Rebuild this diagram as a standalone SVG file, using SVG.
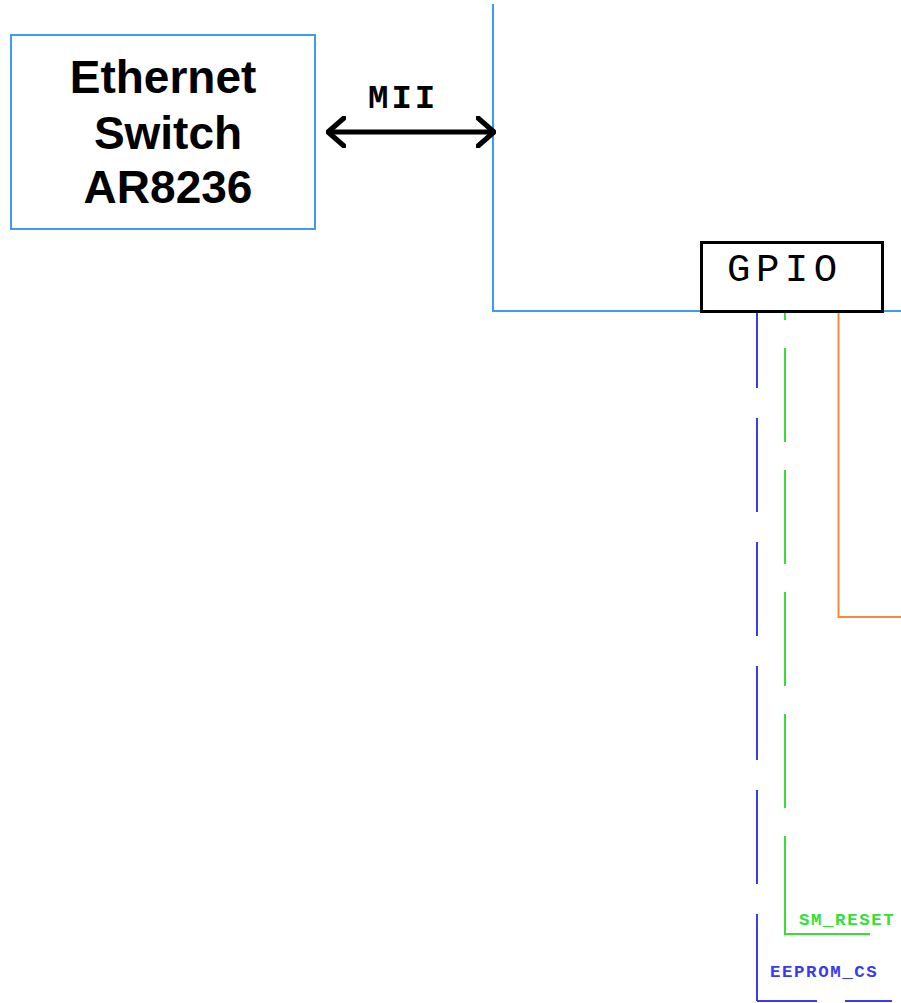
<svg xmlns="http://www.w3.org/2000/svg" width="901" height="1003" viewBox="0 0 901 1003">
<style>
.box{fill:#fff}
.sys{stroke:#3d9bf0;stroke-width:2;fill:none}
.big{font-family:"Liberation Sans",Arial,sans-serif;font-weight:bold;font-size:46px;fill:#000;text-anchor:middle}
.mono{font-family:"Liberation Mono","Courier New",monospace}
.lbl{font-family:"Liberation Mono","Courier New",monospace;font-weight:bold;font-size:17.4px;letter-spacing:1.6px}
</style>
<defs>
<marker id="chev" viewBox="0 0 20 32" refX="18" refY="16" markerWidth="20" markerHeight="32" markerUnits="userSpaceOnUse" orient="auto-start-reverse">
<path d="M2,2 L18,16 L2,30" fill="none" stroke="#000" stroke-width="5" stroke-linecap="round" stroke-linejoin="round"/>
</marker>
</defs>
<g id="connectors">
<path class="sys" d="M493,4 V311 H901"/>
<line x1="328" y1="132" x2="494" y2="132" stroke="#000" stroke-width="5" marker-start="url(#chev)" marker-end="url(#chev)"/>
<text class="mono" x="368" y="108" font-size="34" font-weight="bold" letter-spacing="3" fill="#000">MII</text>
<line x1="757" y1="311" x2="757" y2="1001" stroke="#3a3af5" stroke-width="2" stroke-dasharray="94 30" stroke-dashoffset="17"/>
<path d="M757,1001 H817 M845,1001 H892" stroke="#3a3af5" stroke-width="2" fill="none"/>
<line x1="785" y1="311" x2="785" y2="934" stroke="#33e033" stroke-width="2" stroke-dasharray="94 28" stroke-dashoffset="85"/>
<path d="M785,841 V934 H870" stroke="#33e033" stroke-width="2" fill="none"/>
<path d="M838.5,311 V617 H901" stroke="#f5893c" stroke-width="2" fill="none"/>
<text class="lbl" x="799" y="925" fill="#33e033">SM_RESET</text>
<text class="lbl" x="770" y="977" fill="#3a3af5">EEPROM_CS</text>
</g>
<g id="ethernet-switch">
<rect class="box" x="11" y="35" width="304" height="194" stroke="#3d9bf0" stroke-width="2"/>
<text class="big" x="163" y="93">Ethernet</text>
<text class="big" x="168" y="149">Switch</text>
<text class="big" x="168" y="203">AR8236</text>
</g>
<g id="gpio">
<rect class="box" x="701.5" y="242.5" width="181" height="69" stroke="#000" stroke-width="3"/>
<text class="mono" x="727" y="281" font-size="39" letter-spacing="5.5" fill="#000">GPIO</text>
</g>
</svg>
